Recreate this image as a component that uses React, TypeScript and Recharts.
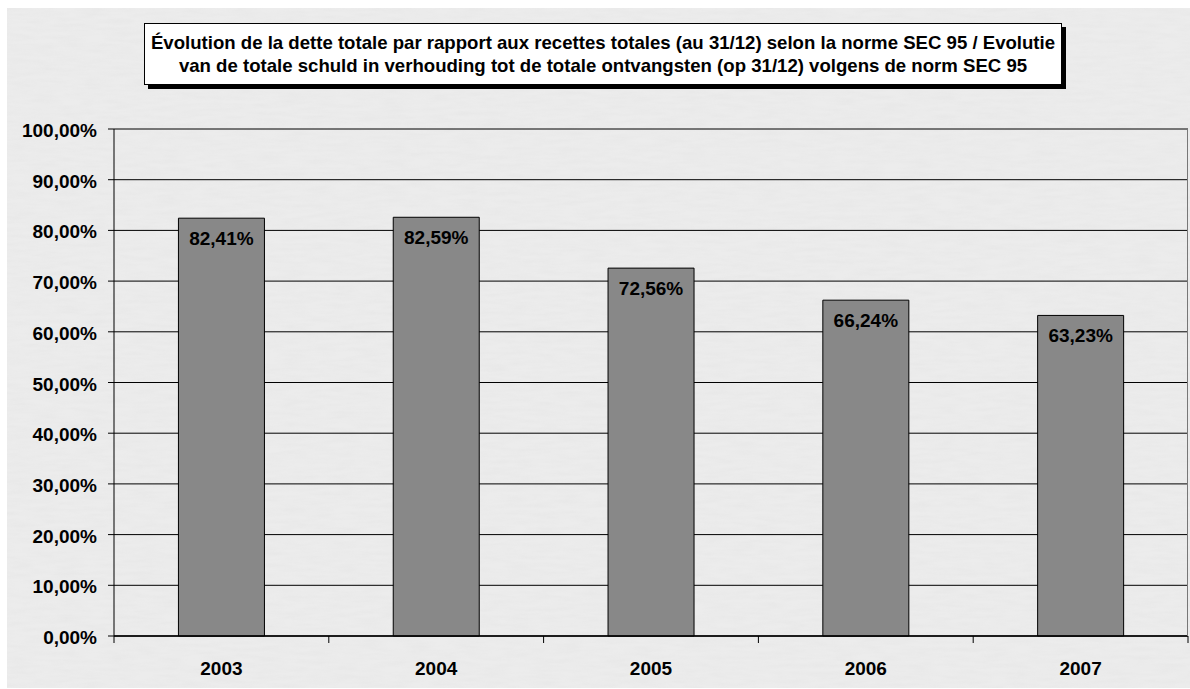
import React from 'react';
import { BarChart, Bar, XAxis, YAxis, CartesianGrid, LabelList } from 'recharts';

const years = ['2003', '2004', '2005', '2006', '2007'];
const ratios = [82.41, 82.59, 72.56, 66.24, 63.23];
const yTicks = [0, 10, 20, 30, 40, 50, 60, 70, 80, 90, 100];
const titleLines = [
  'Évolution de la dette totale par rapport aux recettes totales (au 31/12) selon la norme SEC 95 / Evolutie',
  'van de totale schuld in verhouding tot de totale ontvangsten (op 31/12) volgens de norm SEC 95',
];

const data = years.map((y, i) => ({ year: y, value: ratios[i] }));

const FONT = '"Liberation Sans", Arial, sans-serif';
const fmt = (v: number) => v.toFixed(2).replace('.', ',') + '%';

const XTick = (props: any) => {
  const { x, y, payload, index } = props;
  const off = payload.offset || 0;
  const left = x - off;
  const right = x + off;
  return (
    <g>
      <line x1={left} y1={y - 8} x2={left} y2={y - 1} stroke="#000" strokeWidth={1} />
      {index === years.length - 1 && (
        <line x1={right} y1={y - 8} x2={right} y2={y - 1} stroke="#000" strokeWidth={1} />
      )}
      <text x={x} y={y + 31} textAnchor="middle" fontFamily={FONT} fontWeight="bold" fontSize={19} fill="#000">
        {payload.value}
      </text>
    </g>
  );
};

const YTick = (props: any) => {
  const { x, y, payload } = props;
  return (
    <text x={x} y={y + 8} textAnchor="end" fontFamily={FONT} fontWeight="bold" fontSize={19} fill="#000">
      {fmt(Number(payload.value))}
    </text>
  );
};

export default function App() {
  return (
    <div style={{ position: 'absolute', left: 0, top: 0, width: 1190, height: 689, background: '#fff', overflow: 'hidden' }}>
      <svg style={{ position: 'absolute', left: 7, top: 8 }} width={1183} height={680}>
        <defs>
          <filter id="marble" x="0" y="0" width="100%" height="100%">
            <feTurbulence type="fractalNoise" baseFrequency="0.04 0.25" numOctaves={3} seed={4} />
            <feColorMatrix type="matrix" values="0 0 0 0 0.5  0 0 0 0 0.5  0 0 0 0 0.5  0.5 0 0 0 -0.15" />
          </filter>
        </defs>
        <rect x={0} y={0} width={1183} height={680} fill="#ececec" />
        <rect x={0} y={0} width={1183} height={680} filter="url(#marble)" opacity={0.25} />
      </svg>
      <div style={{ position: 'absolute', left: 0, top: 0 }}>
        <BarChart
          width={1190}
          height={689}
          data={data}
          margin={{ top: 129, right: 2, bottom: 0, left: 0 }}
          barCategoryGap="30%"
        >
          <CartesianGrid vertical={false} stroke="#000" strokeWidth={1} />
          <XAxis
            dataKey="year"
            height={53}
            axisLine={{ stroke: '#000', strokeWidth: 1.5 }}
            tickLine={false}
            tick={<XTick />}
            interval={0}
          />
          <YAxis
            width={114}
            domain={[0, 100]}
            ticks={yTicks}
            interval={0}
            axisLine={{ stroke: '#000', strokeWidth: 1 }}
            tickLine={{ stroke: '#000' }}
            tickSize={6}
            tickMargin={11}
            tick={<YTick />}
          />
          <Bar dataKey="value" fill="#888888" stroke="#000" strokeWidth={1} isAnimationActive={false}>
            <LabelList
              dataKey="value"
              position="insideTop"
              offset={13}
              formatter={(v: any) => fmt(Number(v))}
              style={{ fontFamily: FONT, fontWeight: 'bold', fontSize: 19, fill: '#000' }}
            />
          </Bar>
        </BarChart>
      </div>
      <div style={{ position: 'absolute', right: 2, top: 129, width: 1, height: 507, background: '#777' }} />
      <div
        style={{
          position: 'absolute',
          left: 144,
          top: 23,
          width: 916,
          height: 60,
          background: '#fff',
          border: '1px solid #000',
          boxShadow: '4px 4px 0 #000',
          fontFamily: FONT,
          fontWeight: 'bold',
          fontSize: 18.6,
          lineHeight: '23px',
          textAlign: 'center',
          color: '#000',
          display: 'flex',
          flexDirection: 'column',
          justifyContent: 'center',
          whiteSpace: 'nowrap',
        }}
      >
        {titleLines.map((l, i) => (
          <div key={i}>{l}</div>
        ))}
      </div>
    </div>
  );
}
